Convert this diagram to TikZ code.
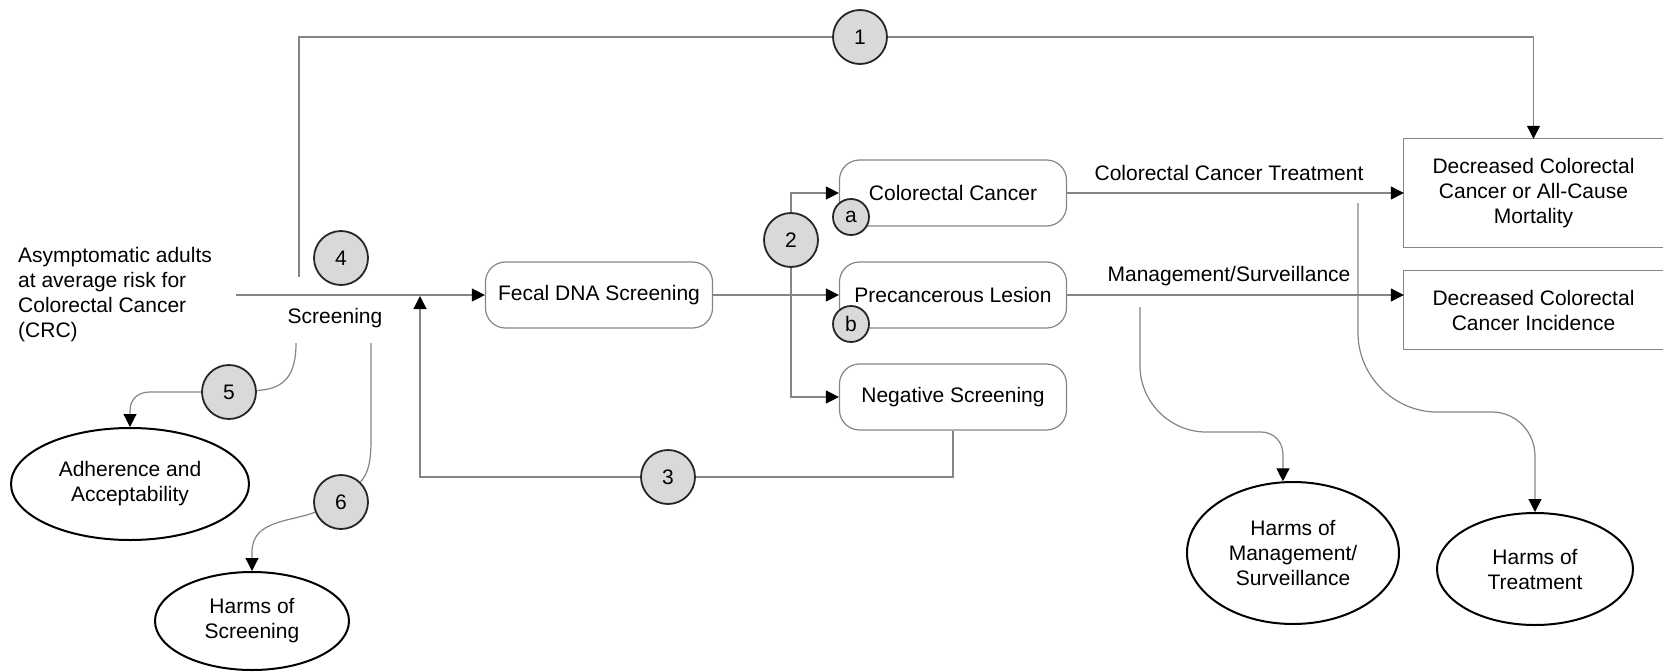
\documentclass[tikz,border=0pt]{standalone}
\usepackage{fontspec}
\setmainfont{Liberation Sans}
\usetikzlibrary{arrows.meta,shapes.geometric,calc}
\definecolor{lngray}{HTML}{858585}
\definecolor{circfill}{HTML}{D9D9D9}
\begin{document}
\begin{tikzpicture}[x=1pt,y=-1pt,
  every node/.style={font=\fontsize{21}{25}\selectfont, inner sep=0pt},
  conn/.style={draw=lngray, line width=1.2pt},
  arr/.style={conn, -{Triangle[length=13pt,width=13pt,color=black]}},
  rbox/.style={draw=lngray, line width=1.2pt, rounded corners=20pt, minimum width=227pt, minimum height=66pt, align=center},
  kq/.style={circle, draw=black!85, line width=1.8pt, fill=circfill, minimum size=54pt},
  ksub/.style={circle, draw=black!85, line width=1.8pt, fill=circfill, minimum size=36pt},
  outc/.style={ellipse, draw=black, line width=2pt, align=center}
]
\useasboundingbox (0,0) rectangle (1663,672);

% text nodes
\node[align=left, anchor=west] (src) at (18,295) {Asymptomatic adults\\at average risk for\\Colorectal Cancer\\(CRC)};
\node (scr) at (335,318) {Screening};

% boxes
\node[rbox] (fecal) at (599,295) {Fecal DNA Screening};
\node[rbox] (cc) at (953,193) {Colorectal Cancer};
\node[rbox] (pl) at (953,295) {Precancerous Lesion};
\node[rbox] (neg) at (953,397) {Negative Screening};

\node[minimum width=259pt, minimum height=108pt, align=center] (mort) at (1533.5,193) {Decreased Colorectal\\Cancer or All-Cause\\Mortality};
\draw[conn] (mort.north east) -- (mort.north west) -- (mort.south west) -- (mort.south east);
\node[minimum width=259pt, minimum height=78pt, align=center] (inc) at (1533.5,310) {Decreased Colorectal\\Cancer Incidence};
\draw[conn] (inc.north east) -- (inc.north west) -- (inc.south west) -- (inc.south east);

% outcome ellipses
\node[outc, minimum width=238pt, minimum height=112pt] (adh) at (130,484) {Adherence and\\Acceptability};
\node[outc, minimum width=194pt, minimum height=98pt] (hs) at (252,621) {Harms of\\Screening};
\node[outc, minimum width=212pt, minimum height=142pt] (hm) at (1293,553) {Harms of\\Management/\\Surveillance};
\node[outc, minimum width=196pt, minimum height=112pt] (ht) at (1535,569) {Harms of\\Treatment};

% key question circles
\node[kq] (k1) at (860,37) {1};
\node[kq] (k2) at (791,240) {2};
\node[kq] (k3) at (668,477) {3};
\node[kq] (k4) at (341,258) {4};
\node[kq] (k5) at (229,392) {5};
\node[kq] (k6) at (341,502) {6};
\node[ksub] (ka) at (851,217) {a};
\node[ksub] (kb) at (851,324) {b};

% labels on connectors
\node (lt) at (1229,173) {Colorectal Cancer Treatment};
\node (lm) at (1229,276) {Management/Surveillance};

% coordinates
\coordinate (j1) at (299,277);
\coordinate (s0) at (236,295);
\coordinate (loopend) at (420,296);
\coordinate (t0) at (1358,203);
\coordinate (m0) at (1140,307);
\coordinate (s5) at (296,343);
\coordinate (s6) at (371,343);

% connectors
\draw[conn] (j1) |- (k1);
\draw[arr] (k1) -| (mort.north);
\draw[arr] (s0) -- (fecal.west);
\draw[arr] (fecal.east) -- (pl.west);
\draw[arr] (k2) |- (cc.west);
\draw[arr] (k2) |- (neg.west);
\draw[arr] (cc.east) -- (cc.east -| mort.west);
\draw[arr] (pl.east) -- (pl.east -| inc.west);
\draw[conn] (neg.south) |- (k3);
\draw[arr] (k3) -| (loopend);

\draw[arr] (t0) -- (1358,333) .. controls (1358,376) and (1394,412) .. (1437,412) -- (1492,412) .. controls (1516,412) and (1535,432) .. (1535,456) -- (ht.north);
\draw[arr] (m0) -- (1140,366) .. controls (1140,402) and (1170,432) .. (1206,432) -- (1261,432) .. controls (1274,432) and (1283,442) .. (1283,455) -- (hm.98);

\draw[conn] (s5) .. controls (296,375) and (285,389) .. (k5);
\draw[arr] (k5.west) -- (150,392) .. controls (138,392) and (130,399) .. (130,411) -- (adh.north);
\draw[conn] (s6) -- (371,440) .. controls (371,462) and (368,474) .. (k6);
\draw[arr] (k6) .. controls (290,522) and (252,520) .. (252,552) -- (hs.north);
\end{tikzpicture}
\end{document}
